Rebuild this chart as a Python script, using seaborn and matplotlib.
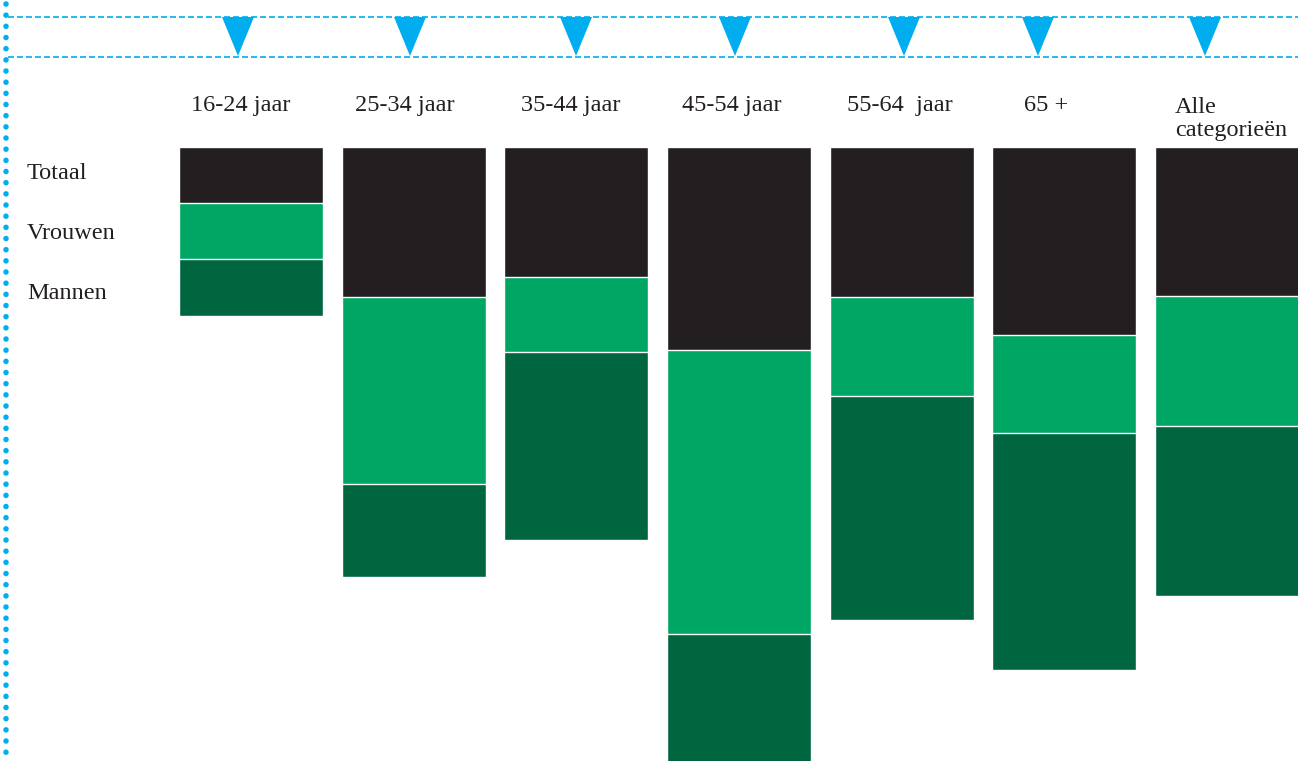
import matplotlib
matplotlib.use("Agg")
import matplotlib.pyplot as plt
import seaborn as sns
import pandas as pd

# data (segment heights)
categories = ["16-24 jaar", "25-34 jaar", "35-44 jaar", "45-54 jaar", "55-64  jaar", "65 +", "Alle\ncategorieën"]
totaal = [56, 150, 130, 203, 150, 188, 149]
vrouwen = [56, 187, 75, 284, 99, 98, 130]
mannen = [57, 93, 188, 128, 224, 237, 170]
row_labels = ["Totaal", "Vrouwen", "Mannen"]

BLACK = "#231f20"
GREEN = "#00a664"
DARK = "#006640"
CYAN = "#00aeef"

sns.set_theme(style="white")
plt.rcParams["font.family"] = ["Liberation Serif", "DejaVu Serif"]

df = pd.DataFrame({"cat": categories, "totaal": totaal, "vrouwen": vrouwen, "mannen": mannen})
df["c1"] = df["totaal"]
df["c2"] = df["c1"] + df["vrouwen"]
df["c3"] = df["c2"] + df["mannen"]

W, H = 1298, 761
fig = plt.figure(figsize=(W / 100, H / 100), dpi=100)

# bar axes: positioned in pixels, bars hang down from y=147
x0, x1 = 170.0, 1308.0
y_top, y_bot = 147, 761
ax = fig.add_axes([x0 / W, 0, (x1 - x0) / W, (y_bot - y_top) / H])
for col, c in [("c3", DARK), ("c2", GREEN), ("c1", BLACK)]:
    sns.barplot(data=df, x="cat", y=col, color=c, width=0.886, edgecolor="white",
                linewidth=1.0, saturation=1, ax=ax)
ax.set_ylim(y_bot - y_top, 0)
ax.set_xlim(-0.5, 6.5)
ax.axis("off")

# overlay in pixel coordinates for labels and decoration
ov = fig.add_axes([0, 0, 1, 1], zorder=3)
ov.set_xlim(0, W)
ov.set_ylim(H, 0)
ov.axis("off")
ov.patch.set_alpha(0)

label_x = [191, 355, 521, 682, 847, 1024, 1175]
tri_x = [238, 410, 576, 735, 904, 1038, 1205]
for lx, lab in zip(label_x, categories):
    ov.text(lx, 111 if "\n" not in lab else 136, lab, ha="left", va="baseline",
            fontsize=17.5, color=BLACK, linespacing=1.15)

for i, lab in enumerate(row_labels):
    ov.text(27, 179 + 60 * i, lab, ha="left", va="baseline", fontsize=17.5, color=BLACK)

# dashed guide lines and triangles
for yy in (17, 57):
    ov.plot([8, W], [yy, yy], color=CYAN, lw=1.2, dashes=(3.6, 1.8))
for tx in tri_x:
    ov.fill([tx - 16, tx + 16, tx], [17, 17, 56], color=CYAN, lw=0)

# dotted vertical line on the left
ov.plot([6, 6], [4, H], color=CYAN, lw=4.0, linestyle=(0, (0.01, 2.0)),
        dash_capstyle="round", solid_capstyle="round")

fig.savefig("out.png", dpi=100)
